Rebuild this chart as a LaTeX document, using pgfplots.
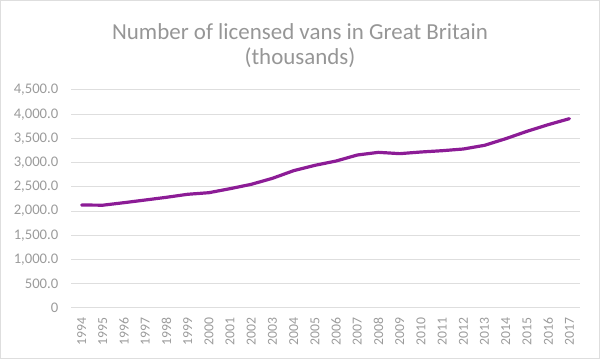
\documentclass[border=0pt]{standalone}
\usepackage{pgfplots}
\pgfplotsset{compat=1.18}
\usepackage{fontspec}
\setmainfont{Carlito}
\definecolor{titlegray}{RGB}{150,150,150}
\definecolor{tickgray}{RGB}{155,155,155}
\definecolor{gridgray}{RGB}{222,222,222}
\definecolor{vanpurple}{RGB}{140,28,150}
\pgfplotstableread{
idx year value
0 1994 2126
1 1995 2122
2 1996 2174
3 1997 2229
4 1998 2285
5 1999 2347
6 2000 2380
7 2001 2463
8 2002 2553
9 2003 2677
10 2004 2835
11 2005 2945
12 2006 3034
13 2007 3158
14 2008 3213
15 2009 3186
16 2010 3220
17 2011 3247
18 2012 3282
19 2013 3358
20 2014 3495
21 2015 3647
22 2016 3784
23 2017 3908
}\vans
\begin{document}
\begin{tikzpicture}
\useasboundingbox (0,0) rectangle (450pt,269.25pt);
\draw[gridgray, line width=0.75pt] (0.5pt,0.5pt) rectangle (449.5pt,268.75pt);
\node[anchor=base, text=titlegray, font=\fontsize{17.2}{20}\selectfont] at (225pt,239.25pt) {Number of licensed vans in Great Britain};
\node[anchor=base, text=titlegray, font=\fontsize{17.2}{20}\selectfont] at (225pt,220.5pt) {(thousands)};
\begin{axis}[
  at={(53.25pt,38.25pt)}, anchor=south west,
  scale only axis, width=381.75pt, height=163.5pt,
  xmin=-0.5, xmax=23.5, ymin=0, ymax=4500,
  axis line style={draw=none},
  major tick length=0pt,
  ymajorgrids, grid style={gridgray, line width=0.75pt},
  ytick={0,500,...,4500},
  yticklabels={0,500.0,{1,000.0},{1,500.0},{2,000.0},{2,500.0},{3,000.0},{3,500.0},{4,000.0},{4,500.0}},
  xtick={0,...,23},
  xticklabels={1994,1995,1996,1997,1998,1999,2000,2001,2002,2003,2004,2005,2006,2007,2008,2009,2010,2011,2012,2013,2014,2015,2016,2017},
  ticklabel style={text=tickgray},
  yticklabel style={font=\fontsize{11}{13}\selectfont, xshift=-6pt},
  xticklabel style={font=\fontsize{10.3}{12}\selectfont, rotate=90, anchor=east, xshift=-4pt},
  clip=false,
]
\addplot[vanpurple, line width=2.4pt, line join=round, line cap=round] table[x=idx, y=value] {\vans};
\end{axis}
\end{tikzpicture}
\end{document}
